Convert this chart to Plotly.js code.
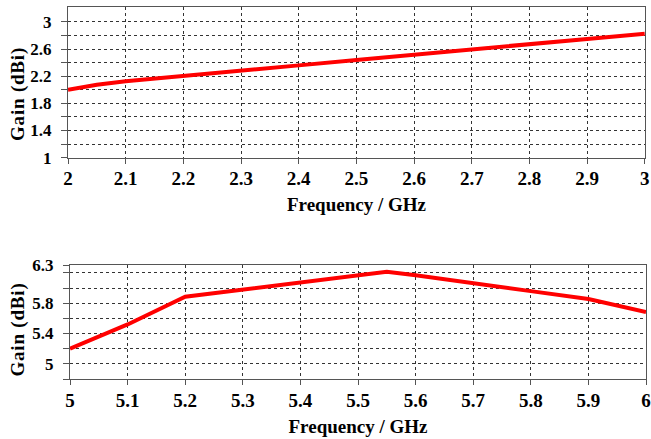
<!DOCTYPE html>
<html>
<head>
<meta charset="utf-8">
<script src="https://cdn.plot.ly/plotly-3.0.1.min.js"></script>
<style>
html,body{margin:0;padding:0;background:#fff}
#chart{width:651px;height:439px}
.annotation-text{letter-spacing:0.8px}
</style>
</head>
<body>
<div id="chart"></div>
<script>
// Band 1 (2-3 GHz)
const freqLow = [2.0, 2.05, 2.1, 2.2, 2.3, 2.4, 2.5, 2.6, 2.7, 2.8, 2.9, 3.0];
const gainLow = [2.0, 2.075, 2.125, 2.2, 2.285, 2.36, 2.44, 2.52, 2.59, 2.67, 2.75, 2.825];
// Band 2 (5-6 GHz)
const freqHigh = [5.0, 5.1, 5.2, 5.3, 5.4, 5.5, 5.55, 5.6, 5.7, 5.8, 5.9, 6.0];
const gainHigh = [5.2, 5.52, 5.885, 5.98, 6.08, 6.17, 6.215, 6.17, 6.07, 5.96, 5.855, 5.685];

const xTicksLow = [2, 2.1, 2.2, 2.3, 2.4, 2.5, 2.6, 2.7, 2.8, 2.9, 3];
const xTickTextLow = ['2','2.1','2.2','2.3','2.4','2.5','2.6','2.7','2.8','2.9','3'];
const xTicksHigh = [5, 5.1, 5.2, 5.3, 5.4, 5.5, 5.6, 5.7, 5.8, 5.9, 6];
const xTickTextHigh = ['5','5.1','5.2','5.3','5.4','5.5','5.6','5.7','5.8','5.9','6'];
const yTicksLow = [1, 1.2, 1.4, 1.6, 1.8, 2.0, 2.2, 2.4, 2.6, 2.8, 3.0];
const yTickTextLow = ['1','','1.4','','1.8','','2.2','','2.6','','3'];
const yTicksHigh = [4.8, 5.0, 5.2, 5.4, 5.6, 5.8, 6.0, 6.2, 6.3];
const yTickTextHigh = ['','5','','5.4','','5.8','','','6.3'];
const xTitle = 'Frequency / GHz';
const yTitle = 'Gain (dBi)';

function fnt(sz) { return {family: 'Liberation Serif', size: sz, color: '#000', weight: 'bold'}; }

const lineStyle = {color: '#ff0000', width: 4};

const traces = [
  {x: freqLow, y: gainLow, type: 'scatter', mode: 'lines', line: lineStyle, xaxis: 'x', yaxis: 'y', hoverinfo: 'skip'},
  {x: freqHigh, y: gainHigh, type: 'scatter', mode: 'lines', line: lineStyle, xaxis: 'x2', yaxis: 'y2', hoverinfo: 'skip'}
];

function ax(extra) {
  return Object.assign({
    showline: true, mirror: true, linecolor: '#555', linewidth: 1.3,
    ticks: 'outside', ticklen: 5, tickcolor: '#555', tickwidth: 1,
    showgrid: true, gridcolor: '#333', gridwidth: 1, griddash: '3px,3px',
    zeroline: false, tickmode: 'array'
  }, extra);
}

const layout = {
  width: 651, height: 439,
  margin: {l: 68, r: 5, t: 7, b: 60},
  paper_bgcolor: '#fff', plot_bgcolor: '#fff',
  showlegend: false,
  font: {family: 'Liberation Serif', size: 19, color: '#000'},
  xaxis: ax({
    domain: [0, 0.998], anchor: 'y', range: [2, 3],
    tickvals: xTicksLow, ticktext: xTickTextLow, tickfont: fnt(19), ticklabelstandoff: -2,
    title: {text: xTitle, font: fnt(19), standoff: 10}
  }),
  yaxis: ax({
    domain: [0.5949, 1], anchor: 'x', range: [1, 3.22], ticklen: 6,
    tickvals: yTicksLow, ticktext: yTickTextLow, tickfont: fnt(17), ticklabelstandoff: 6
  }),
  xaxis2: ax({
    domain: [0.0035, 1], anchor: 'y2', range: [5, 6],
    tickvals: xTicksHigh, ticktext: xTickTextHigh, tickfont: fnt(19), ticklabelstandoff: -1,
    title: {text: xTitle, font: fnt(19), standoff: 9}
  }),
  yaxis2: ax({
    domain: [0, 0.3065], anchor: 'x2', range: [4.8, 6.305], ticklen: 6,
    tickvals: yTicksHigh, ticktext: yTickTextHigh, tickfont: fnt(17), ticklabelstandoff: 6
  }),
  annotations: [
    {text: yTitle, xref: 'paper', yref: 'paper', x: 0, y: 0.7648, xanchor: 'center', yanchor: 'middle',
     xshift: -49.5, textangle: -90, showarrow: false, font: fnt(19)},
    {text: yTitle, xref: 'paper', yref: 'paper', x: 0, y: 0.1317, xanchor: 'center', yanchor: 'middle',
     xshift: -49.5, textangle: -90, showarrow: false, font: fnt(19)}
  ]
};

Plotly.newPlot('chart', traces, layout, {displayModeBar: false});
</script>
</body>
</html>
